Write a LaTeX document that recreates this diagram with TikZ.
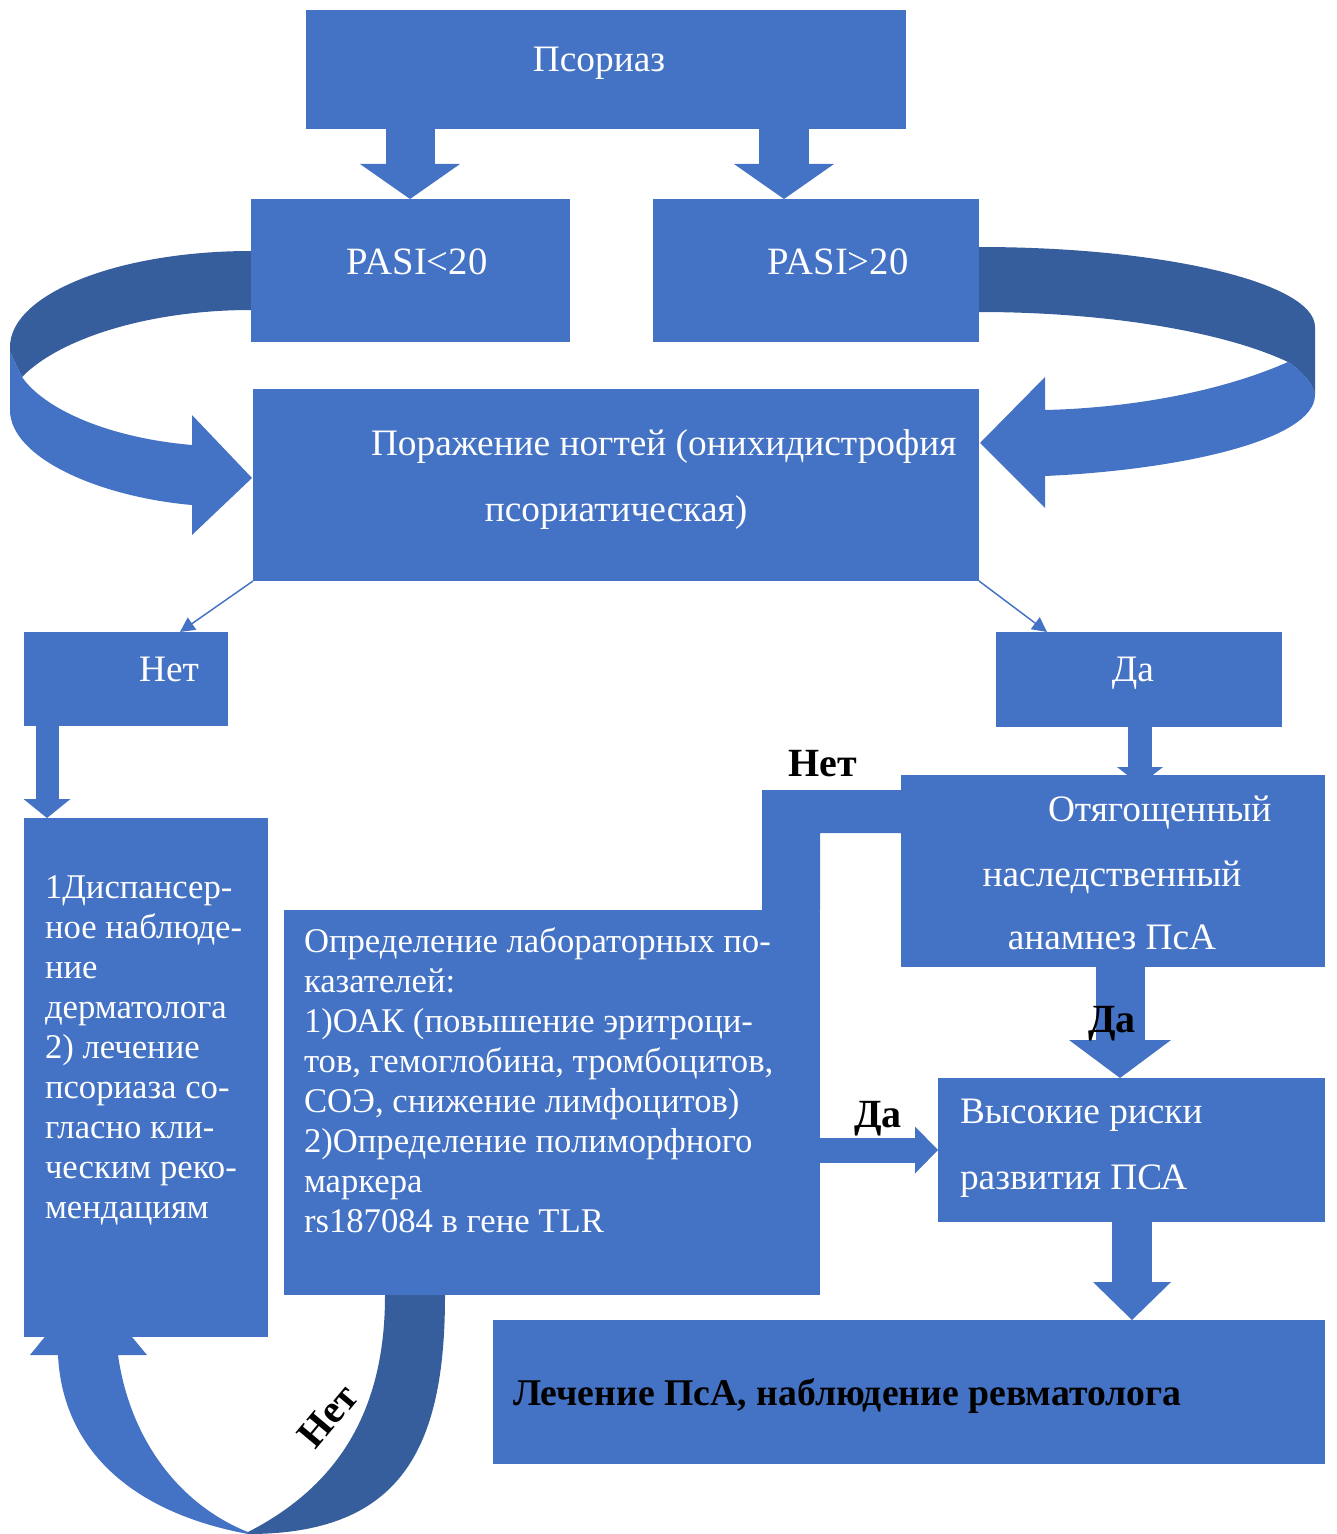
\documentclass[tikz,border=0pt]{standalone}
\usepackage{fontspec}
\setmainfont{Liberation Serif}
\usetikzlibrary{arrows.meta,calc,fit,backgrounds}
\definecolor{blue1}{HTML}{4472C4}
\definecolor{blue2}{HTML}{365E9C}
\tikzset{
  boxs/.style={fill=blue1, draw=none, inner sep=0pt, outer sep=0pt},
  wt/.style={text=white, inner sep=0pt, outer sep=0pt, font=\fontsize{28}{33}\selectfont},
  wts/.style={text=white, inner sep=0pt, outer sep=0pt, font=\fontsize{26}{30}\selectfont, align=left, anchor=north west},
  lbl/.style={text=black, inner sep=0pt, outer sep=0pt, font=\bfseries\fontsize{30}{36}\selectfont},
  barrow/.style n args={3}{draw=blue1, line width=#1, -{Triangle[length=#3, width=#2, line width=0pt, fill=blue1]}},
  thinarrow/.style={draw=blue1, line width=1.1pt, -{Triangle[length=11pt, width=11pt]}},
  ribbon/.style={fill=blue1, draw=none},
  ribbondk/.style={fill=blue2, draw=none},
}
\begin{document}
\begin{tikzpicture}[x=0.75pt, y=-0.75pt]
\useasboundingbox (0,0) rectangle (1336,1534);
% boxes
\node[boxs, fit={(306,10)(906,129)}] (psor) {};
\node[boxs, fit={(251,199)(570,342)}] (pasi1) {};
\node[boxs, fit={(653,199)(979,342)}] (pasi2) {};
\node[boxs, fit={(253,389)(979,581)}] (nail) {};
\node[boxs, fit={(24,632)(228,726)}] (net) {};
\node[boxs, fit={(996,632)(1282,727)}] (da) {};
\node[boxs, fit={(24,818)(268,1337)}] (disp) {};
\node[boxs, fit={(901,775)(1325,967)}] (otyag) {};
\node[boxs, fit={(284,910)(820,1295)}] (lab) {};
\node[boxs, fit={(938,1078)(1325,1222)}] (risk) {};
\node[boxs, fit={(493,1320)(1325,1464)}] (treat) {};
% texts
\node[wt, anchor=base] (psor-t) at (599,72) {Псориаз};
\node[wt, anchor=base, font=\fontsize{29}{33}\selectfont] (pasi1-t) at (417,274) {PASI<20};
\node[wt, anchor=base, font=\fontsize{29}{33}\selectfont] (pasi2-t) at (838,274) {PASI>20};
\node[wt, anchor=base west] (nail-t1) at (371,455) {Поражение ногтей (онихидистрофия};
\node[wt, anchor=base] (nail-t2) at (616,521) {псориатическая)};
\node[wt, anchor=base] (net-t) at (169,681) {Нет};
\node[wt, anchor=base] (da-t) at (1133,681) {Да};
\node[wts] (disp-t) at (45,872.3) {\rule{0pt}{20pt}1Диспансер-\\ное наблюде-\\ние\\дерматолога\\2) лечение\\псориаза со-\\гласно кли-\\ческим реко-\\мендациям};
\node[wts] (lab-t) at (304,926.3) {\rule{0pt}{20pt}Определение лабораторных по-\\казателей:\\1)ОАК (повышение эритроци-\\тов, гемоглобина, тромбоцитов,\\СОЭ, снижение лимфоцитов)\\2)Определение полиморфного\\маркера\\rs187084 в гене TLR};
\node[wt, anchor=base west] (otyag-t1) at (1048,821) {Отягощенный};
\node[wt, anchor=base] (otyag-t2) at (1112,886) {наследственный};
\node[wt, anchor=base] (otyag-t3) at (1112,949) {анамнез ПсА};
\node[wt, anchor=base west] (risk-t1) at (960,1123) {Высокие риски};
\node[wt, anchor=base west] (risk-t2) at (960,1189) {развития ПСА};
\node[lbl, anchor=base west, font=\bfseries\fontsize{28.3}{34}\selectfont] (treat-t) at (513,1405) {Лечение ПсА, наблюдение ревматолога};
% labels
\node[lbl, anchor=base] (l-net1) at (823,776) {Нет};
\node[lbl, anchor=base] (l-da1) at (1112,1032) {Да};
\node[lbl, anchor=base] (l-da2) at (878,1127) {Да};
\node[lbl, rotate=50] (l-net2) at (328,1416) {Нет};
% helper coordinates
\coordinate (cx1) at (410,0);
\coordinate (cx2) at (784,0);
\coordinate (cx3) at (47,0);
\coordinate (cx4) at (1140,0);
\coordinate (cx5) at (1120,0);
\coordinate (cy6) at (0,1150);
\coordinate (cx7) at (1132,0);
\coordinate (cxa) at (180,0);
\coordinate (cxb) at (1047,0);
\coordinate (ey1) at (0,790);
\coordinate (ey2) at (0,833);
\coordinate (ex1) at (762,0);
\begin{scope}[on background layer]
% block arrows
\draw[barrow={36.75pt}{75pt}{26.25pt}] (psor.south -| cx1) -- (pasi1.north -| cx1);
\draw[barrow={37.5pt}{75pt}{26.25pt}] (psor.south -| cx2) -- (pasi2.north -| cx2);
\draw[barrow={17.25pt}{35.25pt}{14.25pt}] (net.south -| cx3) -- (disp.north -| cx3);
\draw[barrow={18pt}{34.5pt}{13.5pt}] (da.south -| cx4) -- ($(otyag.north -| cx4)+(0,10)$);
\draw[barrow={36.75pt}{76.5pt}{28.5pt}] (otyag.south -| cx5) -- (risk.north -| cx5);
\draw[barrow={18.75pt}{35.25pt}{17.25pt}] (lab.east |- cy6) -- (risk.west |- cy6);
\draw[barrow={30pt}{58.5pt}{28.5pt}] (risk.south -| cx7) -- (treat.north -| cx7);
% thin arrows
\draw[thinarrow] (nail.south west) -- (net.north -| cxa);
\draw[thinarrow] (nail.south east) -- (da.north -| cxb);
% elbow connector (Нет)
\fill[blue1] (otyag.west |- ey1) -- (ex1 |- ey1) -- (ex1 |- lab.north) -- (lab.north east) -- (lab.north east |- ey2) -- (otyag.west |- ey2) -- cycle;
% left ribbon
\path[ribbondk] (260,251) -- (251,251) .. controls (118,251) and (10,294) .. (10,347) -- (10,352) -- (22,377) .. controls (60,338) and (150,310) .. (251,310) -- (260,310) -- cycle;
\path[ribbon] (10,352) -- (10,410) .. controls (10,458) and (100,497) .. (192,505) -- (192,535) -- (252,478) -- (192,415) -- (192,445) .. controls (110,438) and (45,410) .. (22,377) -- cycle;
% right ribbon
\path[ribbondk] (970,247) -- (979,247) .. controls (1165,247) and (1315,283) .. (1315,327) -- (1315,393) .. controls (1310,380) and (1300,370) .. (1288,362) .. controls (1220,330) and (1100,312) .. (979,312) -- (970,312) -- cycle;
\path[ribbon] (1288,362) .. controls (1220,392) and (1130,408) .. (1045,410) -- (1045,377) -- (980,443) -- (1045,508) -- (1045,476) .. controls (1180,470) and (1315,440) .. (1315,395) -- (1315,393) .. controls (1310,380) and (1300,370) .. (1288,362) -- cycle;
% bottom ribbon
\path[ribbondk] (385,1288) -- (385,1296) .. controls (385,1420) and (330,1490) .. (248,1532) -- (248,1534) .. controls (400,1534) and (445,1450) .. (445,1296) -- (445,1288) -- cycle;
\path[ribbon] (248,1534) .. controls (120,1510) and (62,1440) .. (58,1355) -- (30,1355) -- (88,1284) -- (147,1355) -- (118,1355) .. controls (130,1440) and (180,1505) .. (248,1532) -- cycle;
\end{scope}
\end{tikzpicture}
\end{document}
